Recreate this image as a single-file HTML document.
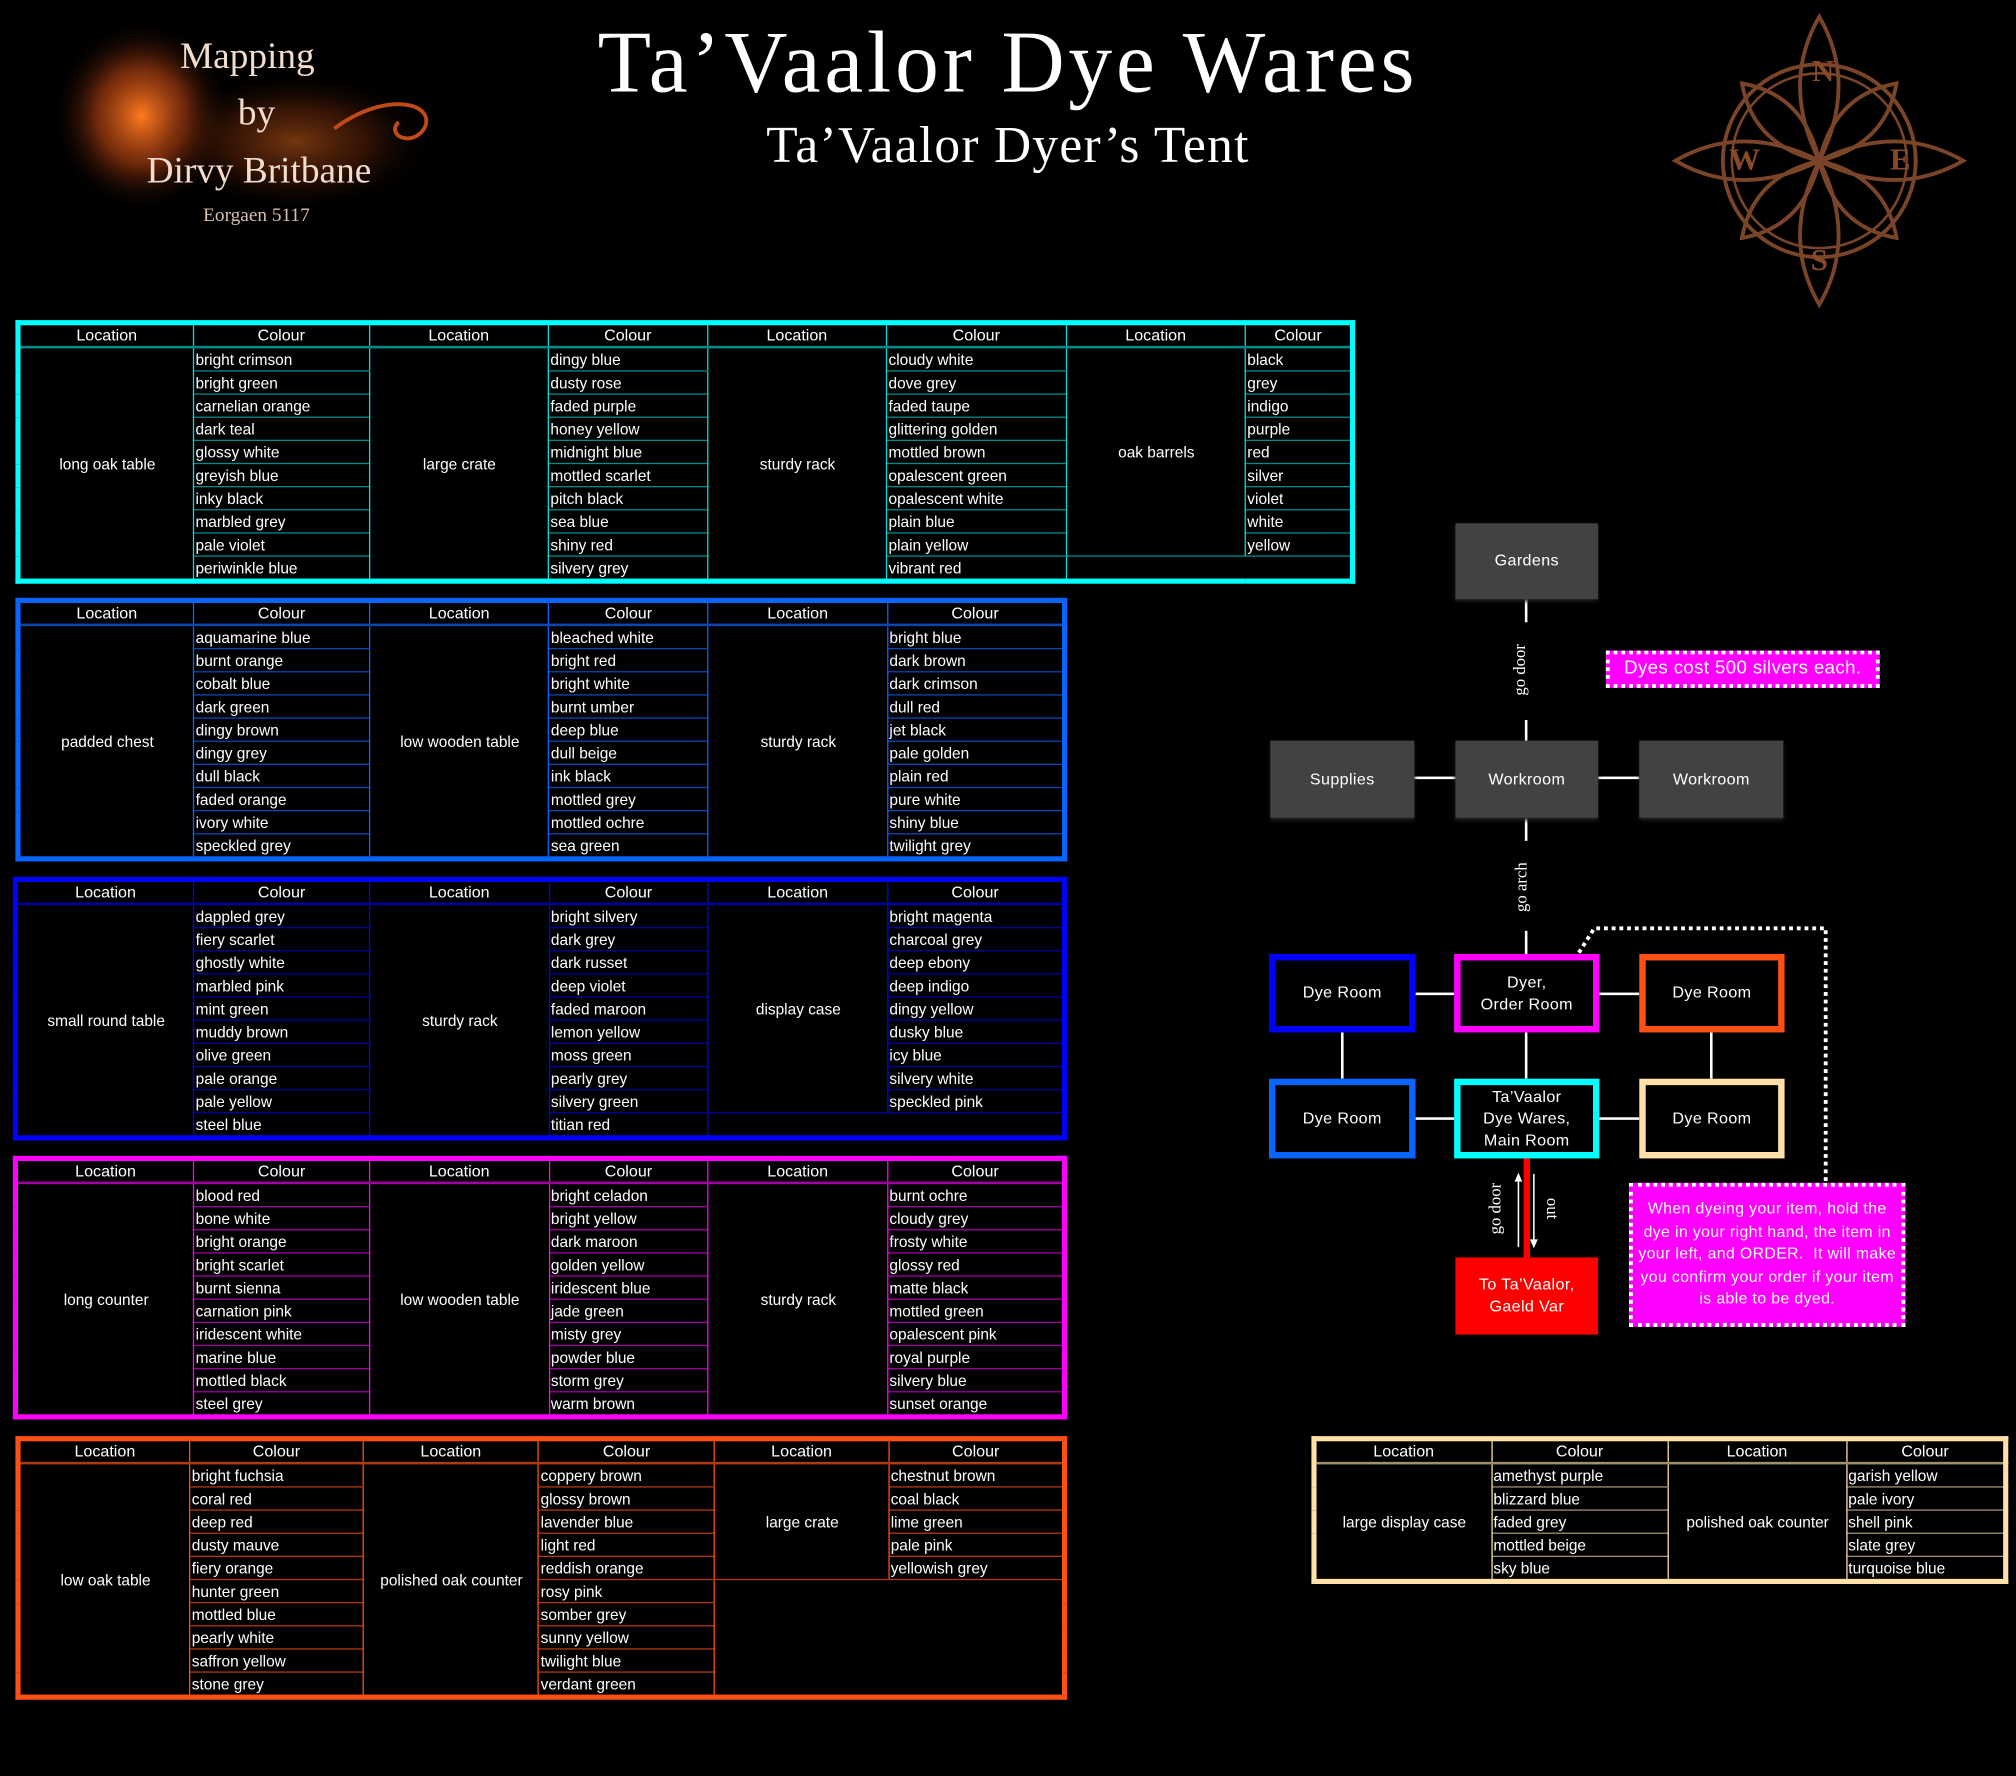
<!DOCTYPE html>
<html><head><meta charset="utf-8">
<style>
html,body{margin:0;padding:0;background:#000;width:2016px;height:1776px;overflow:hidden}
#w{position:absolute;left:0;top:0;width:1568px;height:1381px;transform:scale(1.285714);transform-origin:0 0;font-family:"Liberation Sans",Arial,sans-serif;color:#fff}
table{position:absolute;border-collapse:collapse;table-layout:fixed;font-size:12px;color:#fff}
th{font-weight:normal;height:16px;line-height:15px;padding:0;text-align:center;font-size:12.5px}
td{height:17px;line-height:16px;padding:0 0 0 1px;white-space:nowrap;overflow:hidden;text-align:left}
td.l{text-align:center;vertical-align:middle}
.t1{border:4px solid #00ffff}.t1 th,.t1 td{border-left:1px solid #00e0e0;border-right:1px solid #00e0e0}.t1 th{border-bottom:2px solid #008b8b}.t1 td{border-bottom:1px solid #008b8b}
.t2{border:4px solid #0a64ff}.t2 th,.t2 td{border-left:1px solid #0a64ff;border-right:1px solid #0a64ff}.t2 th{border-bottom:2px solid #0848b0}.t2 td{border-bottom:1px solid #0848b0}
.t3{border:4px solid #0000ff}.t3 th,.t3 td{border-left:1px solid #0000ff;border-right:1px solid #0000ff}.t3 th{border-bottom:2px solid #0000a0}.t3 td{border-bottom:1px solid #0000a0}
.t4{border:4px solid #ff00ff}.t4 th,.t4 td{border-left:1px solid #ff00ff;border-right:1px solid #ff00ff}.t4 th{border-bottom:2px solid #a000a0}.t4 td{border-bottom:1px solid #a000a0}
.t5{border:4px solid #ff5014}.t5 th,.t5 td{border-left:1px solid #ff5014;border-right:1px solid #ff5014}.t5 th{border-bottom:2px solid #b03a10}.t5 td{border-bottom:1px solid #b03a10}
.t6{border:4px solid #ffe0a8}.t6 th,.t6 td{border-left:1px solid #ffe0a8;border-right:1px solid #ffe0a8}.t6 th{border-bottom:2px solid #a09070}.t6 td{border-bottom:1px solid #a09070}
td.e{border-bottom:none!important}
.b{position:absolute;box-sizing:border-box;display:flex;align-items:center;justify-content:center;text-align:center;font-size:12.5px;letter-spacing:0.3px;line-height:17px;color:#fff}
.g{background:#424242;box-shadow:0 2px 3px #222}
.k{background:#000;border:5px solid}
.hl{position:absolute;background:#fff;height:2px}
.vl{position:absolute;background:#fff;width:2px}
.rot{position:absolute;font-family:"Liberation Serif",serif;font-size:13px;color:#fff;white-space:nowrap}
</style></head><body><div id="w">

<svg style="position:absolute;left:0;top:0" width="1568" height="260">
<defs><radialGradient id="rg" cx="50%" cy="50%" r="50%"><stop offset="0" stop-color="#ff7a20"/><stop offset="0.5" stop-color="#a03a10" stop-opacity="0.7"/><stop offset="1" stop-color="#000" stop-opacity="0"/></radialGradient></defs>
<ellipse cx="110" cy="90" rx="70" ry="75" fill="url(#rg)"/>
<ellipse cx="230" cy="110" rx="110" ry="55" fill="url(#rg)" opacity="0.45"/>
<path d="M260 100 C300 70 340 80 330 100 C320 115 300 105 310 95" stroke="#c04a18" stroke-width="3" fill="none"/>
<g transform="translate(1415,125)" fill="none" stroke="#7a4428" stroke-width="3">
<circle r="75"/><circle r="68" stroke-width="2"/>
<path d="M0 -112 Q30 -60 0 0 Q-30 -60 0 -112 Z"/>
<path d="M0 -112 Q30 -60 0 0 Q-30 -60 0 -112 Z" transform="rotate(90)"/>
<path d="M0 -112 Q30 -60 0 0 Q-30 -60 0 -112 Z" transform="rotate(180)"/>
<path d="M0 -112 Q30 -60 0 0 Q-30 -60 0 -112 Z" transform="rotate(270)"/>
<path d="M0 -85 Q28 -45 0 0 Q-28 -45 0 -85 Z" transform="rotate(45)"/>
<path d="M0 -85 Q28 -45 0 0 Q-28 -45 0 -85 Z" transform="rotate(135)"/>
<path d="M0 -85 Q28 -45 0 0 Q-28 -45 0 -85 Z" transform="rotate(225)"/>
<path d="M0 -85 Q28 -45 0 0 Q-28 -45 0 -85 Z" transform="rotate(315)"/>
</g>
<g font-family="Liberation Serif,serif" font-size="24" fill="#8a4a28" text-anchor="middle" font-weight="bold">
<text x="1418" y="63">N</text><text x="1415" y="210">S</text><text x="1357" y="132">W</text><text x="1478" y="132">E</text></g>
</svg>

<div style="position:absolute;left:140px;top:28px;font-family:'Liberation Serif',serif;font-size:29px;color:#f2dccc">Mapping</div>
<div style="position:absolute;left:185px;top:72px;font-family:'Liberation Serif',serif;font-size:29px;color:#f2dccc">by</div>
<div style="position:absolute;left:114px;top:117px;font-family:'Liberation Serif',serif;font-size:29px;color:#f2dccc">Dirvy Britbane</div>
<div style="position:absolute;left:158px;top:160px;font-family:'Liberation Serif',serif;font-size:15px;color:#d8c0b0">Eorgaen 5117</div>

<div style="position:absolute;left:440px;width:688px;top:8px;text-align:center;font-family:'Liberation Serif',serif;font-size:68px;letter-spacing:3px;color:#fff;line-height:80px">Ta’Vaalor Dye Wares</div>
<div style="position:absolute;left:540px;width:488px;top:88px;text-align:center;font-family:'Liberation Serif',serif;font-size:40px;letter-spacing:1px;color:#fff;line-height:50px">Ta’Vaalor Dyer’s Tent</div>

<table class="t1" style="left:12px;top:249px;width:1042px">
<colgroup><col style="width:136px"><col style="width:136px"><col style="width:139px"><col style="width:123px"><col style="width:139px"><col style="width:139px"><col style="width:139px"><col style="width:83px"></colgroup>
<tr><th>Location</th><th>Colour</th><th>Location</th><th>Colour</th><th>Location</th><th>Colour</th><th>Location</th><th>Colour</th></tr>
<tr><td class="l" rowspan="10">long oak table</td><td>bright crimson</td><td class="l" rowspan="10">large crate</td><td>dingy blue</td><td class="l" rowspan="10">sturdy rack</td><td>cloudy white</td><td class="l" rowspan="9">oak barrels</td><td>black</td></tr>
<tr><td>bright green</td><td>dusty rose</td><td>dove grey</td><td>grey</td></tr>
<tr><td>carnelian orange</td><td>faded purple</td><td>faded taupe</td><td>indigo</td></tr>
<tr><td>dark teal</td><td>honey yellow</td><td>glittering golden</td><td>purple</td></tr>
<tr><td>glossy white</td><td>midnight blue</td><td>mottled brown</td><td>red</td></tr>
<tr><td>greyish blue</td><td>mottled scarlet</td><td>opalescent green</td><td>silver</td></tr>
<tr><td>inky black</td><td>pitch black</td><td>opalescent white</td><td>violet</td></tr>
<tr><td>marbled grey</td><td>sea blue</td><td>plain blue</td><td>white</td></tr>
<tr><td>pale violet</td><td>shiny red</td><td>plain yellow</td><td>yellow</td></tr>
<tr><td class="e">periwinkle blue</td><td class="e">silvery grey</td><td class="e">vibrant red</td><td class="e" colspan="2"></td></tr>
</table>

<table class="t2" style="left:12px;top:465px;width:818px">
<colgroup><col style="width:136px"><col style="width:136px"><col style="width:139px"><col style="width:123px"><col style="width:139px"><col style="width:137px"></colgroup>
<tr><th>Location</th><th>Colour</th><th>Location</th><th>Colour</th><th>Location</th><th>Colour</th></tr>
<tr><td class="l" rowspan="10">padded chest</td><td>aquamarine blue</td><td class="l" rowspan="10">low wooden table</td><td>bleached white</td><td class="l" rowspan="10">sturdy rack</td><td>bright blue</td></tr>
<tr><td>burnt orange</td><td>bright red</td><td>dark brown</td></tr>
<tr><td>cobalt blue</td><td>bright white</td><td>dark crimson</td></tr>
<tr><td>dark green</td><td>burnt umber</td><td>dull red</td></tr>
<tr><td>dingy brown</td><td>deep blue</td><td>jet black</td></tr>
<tr><td>dingy grey</td><td>dull beige</td><td>pale golden</td></tr>
<tr><td>dull black</td><td>ink black</td><td>plain red</td></tr>
<tr><td>faded orange</td><td>mottled grey</td><td>pure white</td></tr>
<tr><td>ivory white</td><td>mottled ochre</td><td>shiny blue</td></tr>
<tr><td class="e">speckled grey</td><td class="e">sea green</td><td class="e">twilight grey</td></tr>
</table>

<table class="t3" style="left:10px;top:682px;width:820px">
<colgroup><col style="width:138px"><col style="width:136px"><col style="width:139px"><col style="width:123px"><col style="width:139px"><col style="width:137px"></colgroup>
<tr><th>Location</th><th>Colour</th><th>Location</th><th>Colour</th><th>Location</th><th>Colour</th></tr>
<tr><td class="l" rowspan="10">small round table</td><td>dappled grey</td><td class="l" rowspan="10">sturdy rack</td><td>bright silvery</td><td class="l" rowspan="9">display case</td><td>bright magenta</td></tr>
<tr><td>fiery scarlet</td><td>dark grey</td><td>charcoal grey</td></tr>
<tr><td>ghostly white</td><td>dark russet</td><td>deep ebony</td></tr>
<tr><td>marbled pink</td><td>deep violet</td><td>deep indigo</td></tr>
<tr><td>mint green</td><td>faded maroon</td><td>dingy yellow</td></tr>
<tr><td>muddy brown</td><td>lemon yellow</td><td>dusky blue</td></tr>
<tr><td>olive green</td><td>moss green</td><td>icy blue</td></tr>
<tr><td>pale orange</td><td>pearly grey</td><td>silvery white</td></tr>
<tr><td>pale yellow</td><td>silvery green</td><td>speckled pink</td></tr>
<tr><td class="e">steel blue</td><td class="e">titian red</td><td class="e" colspan="2"></td></tr>
</table>

<table class="t4" style="left:10px;top:899px;width:820px">
<colgroup><col style="width:138px"><col style="width:136px"><col style="width:139px"><col style="width:123px"><col style="width:139px"><col style="width:137px"></colgroup>
<tr><th>Location</th><th>Colour</th><th>Location</th><th>Colour</th><th>Location</th><th>Colour</th></tr>
<tr><td class="l" rowspan="10">long counter</td><td>blood red</td><td class="l" rowspan="10">low wooden table</td><td>bright celadon</td><td class="l" rowspan="10">sturdy rack</td><td>burnt ochre</td></tr>
<tr><td>bone white</td><td>bright yellow</td><td>cloudy grey</td></tr>
<tr><td>bright orange</td><td>dark maroon</td><td>frosty white</td></tr>
<tr><td>bright scarlet</td><td>golden yellow</td><td>glossy red</td></tr>
<tr><td>burnt sienna</td><td>iridescent blue</td><td>matte black</td></tr>
<tr><td>carnation pink</td><td>jade green</td><td>mottled green</td></tr>
<tr><td>iridescent white</td><td>misty grey</td><td>opalescent pink</td></tr>
<tr><td>marine blue</td><td>powder blue</td><td>royal purple</td></tr>
<tr><td>mottled black</td><td>storm grey</td><td>silvery blue</td></tr>
<tr><td class="e">steel grey</td><td class="e">warm brown</td><td class="e">sunset orange</td></tr>
</table>

<table class="t5" style="left:12px;top:1117px;width:818px">
<colgroup><col style="width:133px"><col style="width:134px"><col style="width:136px"><col style="width:136px"><col style="width:135px"><col style="width:136px"></colgroup>
<tr><th>Location</th><th>Colour</th><th>Location</th><th>Colour</th><th>Location</th><th>Colour</th></tr>
<tr><td class="l" rowspan="10">low oak table</td><td>bright fuchsia</td><td class="l" rowspan="10">polished oak counter</td><td>coppery brown</td><td class="l" rowspan="5">large crate</td><td>chestnut brown</td></tr>
<tr><td>coral red</td><td>glossy brown</td><td>coal black</td></tr>
<tr><td>deep red</td><td>lavender blue</td><td>lime green</td></tr>
<tr><td>dusty mauve</td><td>light red</td><td>pale pink</td></tr>
<tr><td>fiery orange</td><td>reddish orange</td><td>yellowish grey</td></tr>
<tr><td>hunter green</td><td>rosy pink</td><td class="e" colspan="2" rowspan="5" style="border-left:1px solid #ff5014"></td></tr>
<tr><td>mottled blue</td><td>somber grey</td></tr>
<tr><td>pearly white</td><td>sunny yellow</td></tr>
<tr><td>saffron yellow</td><td>twilight blue</td></tr>
<tr><td class="e">stone grey</td><td class="e">verdant green</td></tr>
</table>

<table class="t6" style="left:1020px;top:1117px;width:542px">
<colgroup><col style="width:137px"><col style="width:136px"><col style="width:138px"><col style="width:123px"></colgroup>
<tr><th>Location</th><th>Colour</th><th>Location</th><th>Colour</th></tr>
<tr><td class="l" rowspan="5">large display case</td><td>amethyst purple</td><td class="l" rowspan="5">polished oak counter</td><td>garish yellow</td></tr>
<tr><td>blizzard blue</td><td>pale ivory</td></tr>
<tr><td>faded grey</td><td>shell pink</td></tr>
<tr><td>mottled beige</td><td>slate grey</td></tr>
<tr><td class="e">sky blue</td><td class="e">turquoise blue</td></tr>
</table>

<div class="vl" style="left:1186px;top:466px;height:18px"></div>
<div class="vl" style="left:1186px;top:560px;height:17px"></div>
<div class="rot" style="left:1162px;top:513px;transform:rotate(-90deg)">go door</div>
<div class="hl" style="left:1100px;top:604px;width:32px"></div>
<div class="hl" style="left:1243px;top:604px;width:32px"></div>
<div class="vl" style="left:1186px;top:636px;height:18px"></div>
<div class="vl" style="left:1186px;top:724px;height:18px"></div>
<div class="rot" style="left:1164px;top:682px;transform:rotate(-90deg)">go arch</div>
<div class="hl" style="left:1101px;top:772px;width:30px"></div>
<div class="hl" style="left:1244px;top:772px;width:31px"></div>
<div class="hl" style="left:1101px;top:869px;width:30px"></div>
<div class="hl" style="left:1244px;top:869px;width:31px"></div>
<div class="vl" style="left:1043px;top:803px;height:36px"></div>
<div class="vl" style="left:1186px;top:803px;height:36px"></div>
<div class="vl" style="left:1330px;top:803px;height:36px"></div>
<div style="position:absolute;left:1185px;top:901px;width:5px;height:78px;background:#ff0000"></div>
<svg style="position:absolute;left:1140px;top:900px" width="90" height="80">
<line x1="41" y1="70" x2="41" y2="17" stroke="#fff" stroke-width="1.2"/><polygon points="41,12 38,19 44,19" fill="#fff"/>
<line x1="53" y1="13" x2="53" y2="66" stroke="#fff" stroke-width="1.2"/><polygon points="53,71 50,64 56,64" fill="#fff"/>
</svg>
<div class="rot" style="left:1143px;top:932px;transform:rotate(-90deg)">go door</div>
<div class="rot" style="left:1199px;top:932px;transform:rotate(90deg)">out</div>
<svg style="position:absolute;left:1220px;top:715px" width="210" height="210">
<path d="M8 26 L20 7 L200 7 L200 205" fill="none" stroke="#fff" stroke-width="3" stroke-dasharray="3 3"/>
</svg>

<div class="b g" style="left:1132px;top:407px;width:111px;height:59px">Gardens</div>
<div class="b g" style="left:988px;top:576px;width:112px;height:60px">Supplies</div>
<div class="b g" style="left:1132px;top:576px;width:111px;height:60px">Workroom</div>
<div class="b g" style="left:1275px;top:576px;width:112px;height:60px">Workroom</div>
<div class="b k" style="left:987px;top:742px;width:114px;height:61px;border-color:#0000ff">Dye Room</div>
<div class="b k" style="left:1131px;top:742px;width:113px;height:61px;border-color:#ff00ff">Dyer,<br>Order Room</div>
<div class="b k" style="left:1275px;top:742px;width:113px;height:61px;border-color:#ff5014">Dye Room</div>
<div class="b k" style="left:987px;top:839px;width:114px;height:62px;border-color:#0a64ff">Dye Room</div>
<div class="b k" style="left:1131px;top:839px;width:113px;height:62px;border-color:#00ffff">Ta’Vaalor<br>Dye Wares,<br>Main Room</div>
<div class="b k" style="left:1275px;top:839px;width:113px;height:62px;border-color:#ffe0a8">Dye Room</div>
<div class="b" style="left:1132px;top:978px;width:111px;height:60px;background:#ff0000">To Ta’Vaalor,<br>Gaeld Var</div>

<div class="b" style="left:1249px;top:506px;width:213px;height:29px;background:#ff00ff;border:3px dotted #fff;font-size:14.5px">Dyes cost 500 silvers each.</div>
<div class="b" style="left:1267px;top:920px;width:215px;height:112px;background:#ff00ff;border:3px dotted #fff;font-size:12.3px;line-height:17.5px;padding:0 4px">When dyeing your item, hold the dye in your right hand, the item in your left, and ORDER.&nbsp; It will make you confirm your order if your item is able to be dyed.</div>

</div></body></html>
